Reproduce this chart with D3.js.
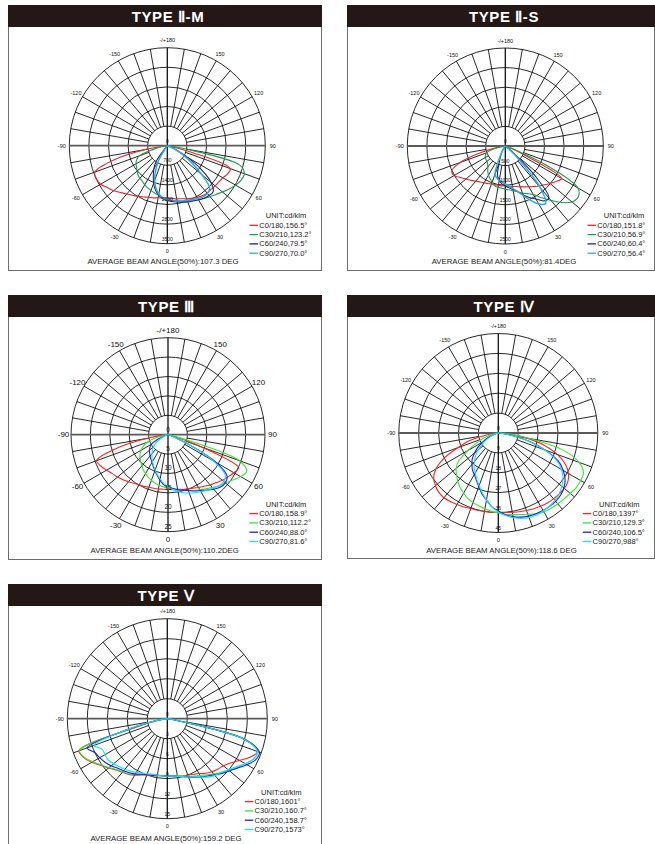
<!DOCTYPE html>
<html>
<head>
<meta charset="utf-8">
<script src="https://cdn.jsdelivr.net/npm/d3@7"></script>
<style>
body { margin: 0; background: #fff; }
svg { display: block; font-family: "Liberation Sans", Arial, sans-serif; }
</style>
</head>
<body>
<div></div>
<script>
const width = 655;
const height = 844;

// gamma angles, 0 = nadir (bottom), +90 = right
const ANGLES = d3.range(-90, 91, 5);

// TYPE II-M (cd/klm)
const red1 = [0,110,790,2000,2750,2800,2750,2610,2500,2360,2250,2160,2090,2020,1960,1930,1890,1880,1880,1890,1930,1960,2020,2070,2130,2180,2210,2210,2230,2250,2290,2380,2390,890,110,40,0];
const green1 = [0,40,180,540,1070,1210,1290,1340,1410,1480,1520,1550,1610,1660,1700,1750,1800,1860,1910,1960,2000,2050,2110,2160,2230,2300,2380,2460,2570,2700,2820,2910,2930,2680,640,110,0];
const navy1 = [0,0,0,0,0,0,0,0,0,0,110,710,960,1180,1430,1640,1790,1890,1960,2000,2040,2090,2140,2180,2230,2290,2320,2320,2040,1500,820,360,140,40,0,0,0];
const cyan1 = [0,0,0,0,0,0,0,0,0,0,0,110,640,1000,1320,1570,1750,1860,1930,1960,2000,2040,2070,2130,2180,2230,2230,2140,1610,1070,640,290,110,40,0,0,0];

// TYPE II-S
const red2 = [0,0,130,640,1220,1510,1510,1400,1310,1240,1170,1120,1080,1060,1030,1020,1020,1020,1020,1030,1050,1070,1110,1150,1200,1260,1330,1400,1490,1580,1660,510,80,0,0,0,0];
const green2 = [0,0,80,360,510,560,590,600,610,640,690,780,860,920,980,1050,1070,1080,1100,1120,1160,1210,1280,1340,1430,1610,1810,2040,2220,2270,2140,1150,200,30,0,0,0];
const navy2 = [0,0,0,0,0,0,0,0,0,0,0,30,150,280,460,770,890,970,1020,1070,1120,1200,1330,1450,1560,1710,1730,1070,260,50,0,0,0,0,0,0,0];
const cyan2 = [0,0,0,0,0,0,0,0,0,0,0,50,180,380,770,840,890,920,970,1020,1100,1200,1350,1530,1710,1790,1400,510,130,0,0,0,0,0,0,0,0];

// TYPE III
const red3 = [0,0.5,5.4,13.9,19.6,19.1,18.3,17.5,17.0,16.4,15.8,15.3,14.9,14.7,14.4,14.3,14.2,14.1,14.1,14.2,14.3,14.6,14.8,15.2,15.7,16.2,16.9,17.5,18.3,18.9,19.6,20.1,9.0,0.8,0,0,0];
const green3 = [0,0.3,1.3,3.6,5.7,7.0,8.0,8.8,9.4,9.9,10.4,11.1,11.6,12.1,12.5,12.9,13.3,13.5,13.7,14.0,14.4,14.8,15.3,15.8,16.4,17.0,17.8,18.6,19.3,20.4,21.6,22.4,19.6,3.9,0.8,0,0];
const blue3 = [0,0,0,0.3,1.0,3.1,4.9,5.7,6.2,6.7,7.2,7.7,8.2,9.0,9.9,10.8,11.9,12.9,13.5,13.9,14.4,14.8,15.3,16.0,16.6,17.4,18.3,19.1,19.3,18.6,14.2,5.7,1.3,0.3,0,0,0];
const cyan3 = [0,0,0,0,0.5,1.3,2.6,3.9,4.9,5.7,6.4,7.2,8.0,8.8,9.7,10.6,11.6,12.6,13.4,14.2,14.8,15.5,16.0,16.5,17.0,17.5,18.0,18.6,18.8,18.0,13.4,5.7,1.3,0.3,0,0,0];

// TYPE IV
const red4 = [0,1.4,5.9,13.6,19.4,27.1,32.6,35.7,37.1,38.0,38.2,37.8,37.3,36.9,36.4,36.2,36.0,35.9,35.9,36.1,36.4,36.9,37.3,37.8,38.2,38.7,38.9,39.0,39.0,38.4,36.6,33.5,28.5,21.7,12.7,4.5,0];
const green4 = [0,0.5,1.8,4.5,7.7,11.3,15.8,21.7,24.9,26.7,28.5,30.1,31.4,32.6,33.5,34.1,34.8,35.5,36.2,36.9,37.5,38.2,39.1,40.3,41.2,41.6,41.8,42.1,42.5,43.0,43.0,42.5,38.9,30.8,14.9,4.5,0];
const blue4 = [0,0,0,0.9,2.7,5.4,8.1,11.3,14.0,16.7,18.5,20.4,21.7,23.5,25.8,28.5,30.8,33.5,35.3,37.1,38.4,39.4,40.0,40.3,40.5,40.5,40.3,39.8,38.7,36.9,33.9,29.9,22.6,14.5,6.3,1.8,0];
const cyan4 = [0,0,0,0.5,1.8,4.1,6.3,9.0,11.8,14.5,16.7,19.0,20.8,23.1,25.3,28.0,30.8,33.5,35.7,37.5,38.9,40.0,40.7,40.9,40.7,40.3,39.8,38.9,37.5,35.7,33.0,28.9,22.2,14.0,5.9,1.8,0];

// TYPE V
const red5 = [0,0.3,1.5,4.5,14.1,13.8,13.1,12.2,11.5,10.9,10.5,10.2,9.8,9.3,9.0,8.9,8.7,8.6,8.6,8.6,8.7,8.9,9.0,9.2,9.5,10.0,10.4,10.7,11.0,11.6,12.5,13.7,14.4,12.3,1.2,0.3,0];
const green5 = [0,0.3,1.8,5.3,14.0,13.7,12.9,12.1,11.4,10.8,10.4,10.1,9.6,9.2,8.9,8.8,8.6,8.6,8.6,8.6,8.7,8.9,9.2,9.5,9.8,10.3,10.8,11.4,12.0,12.8,13.5,14.3,14.4,12.0,1.5,0.3,0];
const blue5 = [0,0.3,1.8,6.0,12.8,12.0,11.7,11.4,11.0,10.5,10.2,9.9,9.6,9.2,8.9,8.8,8.6,8.6,8.6,8.6,8.8,9.0,9.3,9.7,10.1,10.5,11.0,11.6,12.2,12.9,13.8,14.6,14.7,12.0,1.5,0.3,0];
const cyan5 = [0,0.3,1.8,6.0,11.7,10.8,10.8,10.8,10.5,10.2,9.9,9.6,9.3,9.0,8.8,8.6,8.6,8.6,8.6,8.6,8.8,9.0,9.3,9.6,10.1,10.7,11.1,11.4,11.9,12.6,13.5,14.3,14.4,12.0,1.5,0.3,0];

// ring tick labels
const ticks1 = [700, 1400, 2100, 2800, 3500];
const ticks2 = [500, 1000, 1500, 2000, 2500];
const ticks3 = [5, 10, 15, 20, 25];
const ticks4 = [9, 18, 27, 36, 45];
const ticks5 = [3, 6, 9, 12, 15];

const angleTicks = [180, 150, 120, 90, 60, 30, 0, -30, -60, -90, -120, -150];

const legend1 = ['C0/180,156.5°', 'C30/210,123.2°', 'C60/240,79.5°', 'C90/270,70.0°'];
const legend2 = ['C0/180,151.8°', 'C30/210,56.9°', 'C60/240,60.4°', 'C90/270,56.4°'];
const legend3 = ['C0/180,158.9°', 'C30/210,112.2°', 'C60/240,88.0°', 'C90/270,81.6°'];
const legend4 = ['C0/180,1397°', 'C30/210,129.3°', 'C60/240,106.5°', 'C90/270,988°'];
const legend5 = ['C0/180,1601°', 'C30/210,160.7°', 'C60/240,158.7°', 'C90/270,1573°'];

const colorsA = ['#e8252c', '#1c9e4a', '#222283', '#2fa9e6'];
const colorsB = ['#ff2020', '#30e830', '#1a1aff', '#10e4f4'];

const panels = [
    {title: 'TYPE Ⅱ-M', x: 8, y: 5, w: 314, h: 266, tx: 168, cx: 167.3, cy: 145.7, R: 98,
     ticks: ticks1, series: [red1, green1, navy1, cyan1], legend: legend1, colors: colorsA,
     avg: 'AVERAGE BEAM ANGLE(50%):107.3 DEG', ax: 163, lx: 278, ly: 210.7, fs: 5.5, ts: 5},
    {title: 'TYPE Ⅱ-S', x: 347, y: 5, w: 308, h: 266, tx: 504, cx: 505.3, cy: 146, R: 98,
     ticks: ticks2, series: [red2, green2, navy2, cyan2], legend: legend2, colors: colorsA,
     avg: 'AVERAGE BEAM ANGLE(50%):81.4DEG', ax: 504, lx: 277, ly: 210.7, fs: 5.5, ts: 5},
    {title: 'TYPE Ⅲ', x: 8, y: 295, w: 314, h: 265, tx: 166.5, cx: 168, cy: 434.7, R: 97,
     ticks: ticks3, series: [red3, green3, blue3, cyan3], legend: legend3, colors: colorsB,
     avg: 'AVERAGE BEAM ANGLE(50%):110.2DEG', ax: 164.7, lx: 278, ly: 209, fs: 8, ts: 6.5},
    {title: 'TYPE Ⅳ', x: 347, y: 295, w: 308, h: 264, tx: 504, cx: 498.3, cy: 433, R: 99.5,
     ticks: ticks4, series: [red4, green4, blue4, cyan4], legend: legend4, colors: colorsB,
     avg: 'AVERAGE BEAM ANGLE(50%):118.6 DEG', ax: 501.5, lx: 272.3, ly: 209, fs: 5.5, ts: 5},
    {title: 'TYPE Ⅴ', x: 8, y: 584, w: 314, h: 270, tx: 166, cx: 167.3, cy: 718.7, R: 100,
     ticks: ticks5, series: [red5, green5, blue5, cyan5], legend: legend5, colors: colorsB,
     avg: 'AVERAGE BEAM ANGLE(50%):159.2 DEG', ax: 166, lx: 273.3, ly: 208, fs: 5.5, ts: 5}
];

const svg = d3.select('div').append('svg').attr('width', width).attr('height', height);

const rad = a => a * Math.PI / 180;

panels.forEach(p => {
    // frame + header band
    svg.append('rect').attr('x', p.x + 0.5).attr('y', p.y + 0.5).attr('width', p.w - 1).attr('height', p.h - 1)
        .attr('fill', 'none').attr('stroke', '#6d6d6d').attr('stroke-width', 1);
    svg.append('rect').attr('x', p.x).attr('y', p.y).attr('width', p.w).attr('height', 22).attr('fill', '#231815');
    svg.append('text').attr('x', p.tx).attr('y', p.y + 17).attr('text-anchor', 'middle')
        .attr('fill', '#fff').attr('font-size', 15).attr('font-weight', 'bold').attr('letter-spacing', 0.6)
        .text(p.title);

    const g = svg.append('g').attr('transform', 'translate(' + p.cx + ',' + p.cy + ')');
    const r = d3.scaleLinear().domain([0, p.ticks[p.ticks.length - 1]]).range([0, p.R]);
    const inner = r(p.ticks[0]);

    // spokes every 10 deg, from the inner circle outwards
    const spokes = d3.range(0, 360, 10).filter(a => a % 90 !== 0);
    g.selectAll('line.spoke').data(spokes).enter().append('line')
        .attr('x1', a => inner * Math.sin(rad(a))).attr('y1', a => inner * Math.cos(rad(a)))
        .attr('x2', a => p.R * Math.sin(rad(a))).attr('y2', a => p.R * Math.cos(rad(a)))
        .attr('stroke', '#111').attr('stroke-width', 0.9);

    g.selectAll('circle.ring').data(p.ticks).enter().append('circle')
        .attr('r', d => r(d)).attr('fill', 'none').attr('stroke', '#111').attr('stroke-width', 0.9);

    g.append('line').attr('x1', 0).attr('x2', 0).attr('y1', -p.R).attr('y2', p.R)
        .attr('stroke', '#111').attr('stroke-width', 1.3);
    g.append('line').attr('x1', -p.R).attr('x2', p.R).attr('y1', 0).attr('y2', 0)
        .attr('stroke', '#5a5a5a').attr('stroke-width', 1.8);

    // curves
    const line = d3.lineRadial()
        .angle(d => Math.PI - rad(d[0]))
        .radius(d => r(d[1]))
        .curve(d3.curveCatmullRom.alpha(0.5));
    p.series.forEach((vals, i) => {
        g.append('path').datum(ANGLES.map((a, j) => [a, vals[j]]))
            .attr('d', line).attr('fill', 'none')
            .attr('stroke', p.colors[i]).attr('stroke-width', i === 3 && p.colors === colorsA ? 1.5 : 1.1)
            .attr('stroke-linejoin', 'round');
    });

    // ring labels
    g.append('text').attr('x', 0).attr('y', -3).attr('text-anchor', 'middle')
        .attr('font-size', p.ts).attr('fill', '#111').text('0');
    g.selectAll('text.tick').data(p.ticks).enter().append('text')
        .attr('x', 0).attr('y', d => r(d) - 3).attr('text-anchor', 'middle')
        .attr('font-size', p.ts).attr('fill', '#111').text(d => d);

    // angle labels
    const lr = p.R + 7.5;
    g.selectAll('text.ang').data(angleTicks).enter().append('text')
        .attr('x', a => lr * Math.sin(rad(a))).attr('y', a => lr * Math.cos(rad(a)))
        .attr('text-anchor', 'middle').attr('dominant-baseline', 'central')
        .attr('font-size', p.fs).attr('fill', '#111')
        .text(a => a === 180 ? '-/+180' : a);

    // legend
    svg.append('text').attr('x', p.x + p.lx).attr('y', p.y + p.ly).attr('text-anchor', 'middle')
        .attr('dominant-baseline', 'central').attr('font-size', 7.5).attr('fill', '#222').text('UNIT:cd/klm');
    p.legend.forEach((t, i) => {
        const yy = p.y + p.ly + 9.6 + i * 9.3;
        const x0 = p.x + p.lx - 36.5;
        svg.append('line').attr('x1', x0).attr('x2', x0 + 8.5).attr('y1', yy).attr('y2', yy)
            .attr('stroke', p.colors[i]).attr('stroke-width', 1.3);
        svg.append('text').attr('x', x0 + 9.8).attr('y', yy).attr('dominant-baseline', 'central')
            .attr('font-size', 7.5).attr('fill', '#222').text(t);
    });

    svg.append('text').attr('x', p.ax).attr('y', p.y + p.ly + 46).attr('text-anchor', 'middle')
        .attr('dominant-baseline', 'central').attr('font-size', 7.8).attr('fill', '#222').text(p.avg);
});
</script>
</body>
</html>
